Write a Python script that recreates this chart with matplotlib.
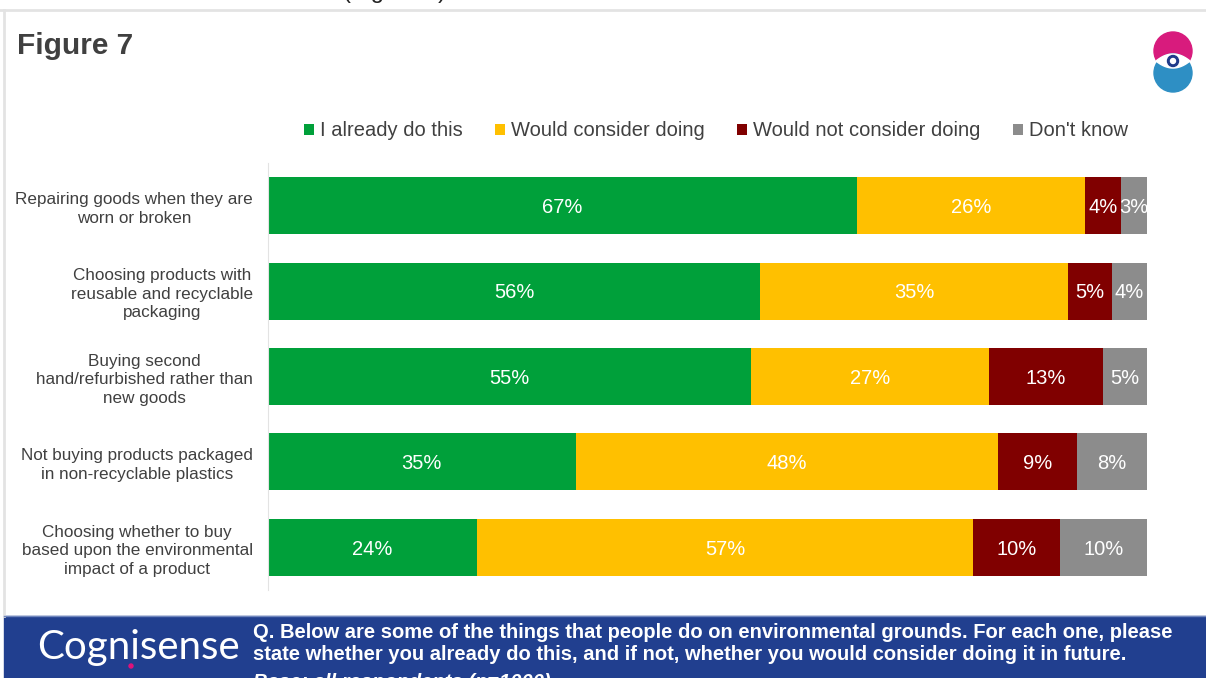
import numpy as np
import matplotlib.pyplot as plt
from matplotlib.patches import Rectangle, Circle, Polygon

plt.rcParams['font.family'] = ['Liberation Sans', 'DejaVu Sans']

# survey answers, % of respondents
categories = [
    'Repairing goods when they are\nworn or broken',
    'Choosing products with\nreusable and recyclable\npackaging',
    'Buying second\nhand/refurbished rather than\nnew goods',
    'Not buying products packaged\nin non-recyclable plastics',
    'Choosing whether to buy\nbased upon the environmental\nimpact of a product',
]
already_do = [67, 56, 55, 35, 24]
would_consider = [26, 35, 27, 48, 57]
would_not = [4, 5, 13, 9, 10]
dont_know = [3, 4, 5, 8, 10]

series_names = ['I already do this', 'Would consider doing',
                'Would not consider doing', "Don't know"]
colors = ['#00a03a', '#ffc000', '#800000', '#8c8c8c']

W, H = 1206, 678
fig = plt.figure(figsize=(W / 100, H / 100), dpi=100)

# overlay in pixel coordinates for frame, banner and logo
deco = fig.add_axes([0, 0, 1, 1], zorder=0)
deco.set_xlim(0, W)
deco.set_ylim(H, 0)
deco.axis('off')

deco.plot([0, W], [10, 10], color='#e3e3e3', lw=2)
deco.plot([4, 4], [10, 616], color='#e3e3e3', lw=2)
deco.text(343, -2, '(Figure 7)', fontsize=17, color='#222222', va='baseline')
deco.text(17, 46, 'Figure 7', fontsize=21.5, fontweight='bold', color='#404040',
          va='center')

# eye logo
deco.add_patch(Circle((1173, 51), 19, color='#d81b7d'))
deco.add_patch(Circle((1173, 73), 19, color='#2e8fc4'))
t = np.linspace(-1, 1, 60)
upper = np.column_stack([1173 + 17 * t, 61 - 7 * (1 - t ** 2)])
lower = np.column_stack([1173 + 17 * t[::-1], 61 + 7 * (1 - t[::-1] ** 2)])
deco.add_patch(Polygon(np.vstack([upper, lower]), closed=True, color='white'))
deco.add_patch(Circle((1173, 61), 5.5, color='#1f3a8a'))
deco.add_patch(Circle((1173, 61), 2.5, color='white'))

# footer banner
deco.add_patch(Rectangle((4, 616), W - 4, H - 616, color='#213f8f'))
deco.plot([4, W], [616, 616], color='#6f86bd', lw=1)
deco.text(37, 648, 'Cognisense', fontsize=29, color='white', va='center',
          family=['Lato', 'DejaVu Sans'])
deco.add_patch(Circle((131, 666), 2, color='#e0127a'))
narrow = ['Liberation Sans Narrow', 'Liberation Sans']
deco.text(253, 632, 'Q. Below are some of the things that people do on environmental '
          'grounds. For each one, please', fontsize=14.5, fontweight='bold',
          color='white', va='center', family=narrow)
deco.text(253, 655, 'state whether you already do this, and if not, whether you would '
          'consider doing it in future.', fontsize=14.5, fontweight='bold',
          color='white', va='center', family=narrow)
deco.text(253, 683, 'Base: all respondents (n=1000)', fontsize=14.5,
          fontweight='bold', style='italic', color='white', va='center',
          family=narrow)

# stacked bars, each row scaled to 100%
ax = fig.add_axes([268 / W, 1 - 590 / H, 879 / W, 427 / H], zorder=1)
ax.patch.set_alpha(0)
data = np.array([already_do, would_consider, would_not, dont_know], dtype=float)
totals = data.sum(axis=0)
y = np.arange(len(categories))
left = np.zeros(len(categories))
bars = []
for vals, name, col in zip(data, series_names, colors):
    share = vals / totals * 100
    b = ax.barh(y, share, left=left, height=0.667, color=col, label=name)
    for yi, l, s, v in zip(y, left, share, vals):
        ax.text(l + s / 2, yi + 0.02, f'{v:.0f}%', color='white', fontsize=14.5,
                ha='center', va='center')
    left += share
    bars.append(b)

ax.set_xlim(0, 100)
ax.set_ylim(len(categories) - 0.5, -0.5)
ax.set_yticks(y)
ax.set_yticklabels(categories, fontsize=12.3, color='#404040',
                   multialignment='center', linespacing=1.3)
ax.tick_params(axis='y', length=0, pad=11)
ax.set_xticks([])
for side in ['top', 'right', 'bottom']:
    ax.spines[side].set_visible(False)
ax.spines['left'].set_color('#e3e3e3')

fig.legend(handles=bars, loc='center', bbox_to_anchor=(716 / W, 1 - 131 / H),
           ncol=4, frameon=False, fontsize=14.5, handlelength=0.5, handleheight=0.5,
           handletextpad=0.3, columnspacing=1.6, labelcolor='#404040')

fig.savefig('out.png', dpi=100)
